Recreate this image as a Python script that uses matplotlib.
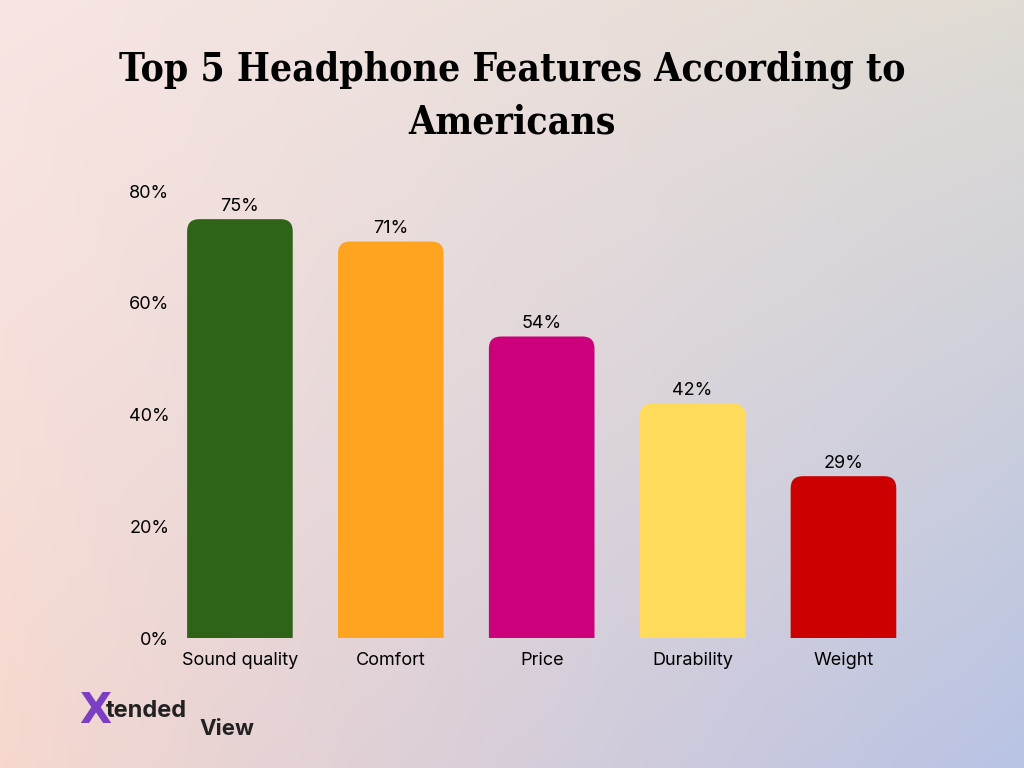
import numpy as np
import matplotlib
matplotlib.use("Agg")
import matplotlib.pyplot as plt
from matplotlib.patches import FancyBboxPatch
from matplotlib.colors import to_rgb

categories = ["Sound quality", "Comfort", "Price", "Durability", "Weight"]
values = [75, 71, 54, 42, 29]
colors = ["#2e6318", "#ffa421", "#cc007a", "#ffdb5c", "#cc0000"]
yticks = [0, 20, 40, 60, 80]

fig = plt.figure(figsize=(10.24, 7.68), dpi=100)

# gradient background
bg = fig.add_axes([0, 0, 1, 1])
tl, tr, bl, br = [np.array(to_rgb(c)) for c in ("#f8e6e4", "#e0dbd3", "#f6d8cf", "#b8c3e4")]
u = np.linspace(0, 1, 256)[None, :, None]
v = np.linspace(0, 1, 192)[:, None, None]
img = (1 - v) * ((1 - u) * tl + u * tr) + v * ((1 - u) * bl + u * br)
bg.imshow(img, aspect="auto", extent=[0, 1, 0, 1])
bg.axis("off")

ax = fig.add_axes([0.168, 0.169, 0.722, 0.582])
ax.patch.set_alpha(0)
x = np.arange(len(categories))
bars = ax.bar(x, values, width=0.7, color=colors)
ax.set_xlim(-0.45, len(categories) - 0.55)
ax.set_ylim(0, 80)
aspect = (80 / 447) / (4.9 / 740)  # data-y per data-x for same pixel size
r = 0.08
for b, c in zip(bars, colors):
    b.set_visible(False)
    x0, w, h = b.get_x(), b.get_width(), b.get_height()
    ax.add_patch(FancyBboxPatch((x0 + r, 0), w - 2 * r, h - r * aspect,
                                boxstyle=f"round,pad={r}", mutation_aspect=aspect,
                                facecolor=c, edgecolor="none"))
    ax.text(x0 + w / 2, h + 0.8, f"{h:.0f}%", ha="center", va="bottom",
            fontsize=13, family="Inter")

ax.set_yticks(yticks)
ax.set_yticklabels([f"{t}%" for t in yticks], fontsize=13, family="Inter")
ax.set_xticks(x)
ax.set_xticklabels(categories, fontsize=13, family="Inter")
ax.tick_params(length=0)
ax.tick_params(axis="x", pad=10)
ax.tick_params(axis="y", pad=2)
for s in ax.spines.values():
    s.set_visible(False)

fig.text(0.5, 0.875, "Top 5 Headphone Features According to\nAmericans", ha="center",
         va="center", fontsize=28, fontweight="heavy", family="DejaVu Serif",
         fontstretch="condensed", linespacing=1.5)

fig.text(0.077, 0.058, "X", fontsize=30, fontweight="bold", color="#7b3fc4", family="DejaVu Sans")
fig.text(0.103, 0.066, "tended", fontsize=17, fontweight="bold", color="#222222", family="Inter")
fig.text(0.195, 0.043, "View", fontsize=16, fontweight="bold", color="#222222", family="Inter")

fig.savefig("out.png", dpi=100)
